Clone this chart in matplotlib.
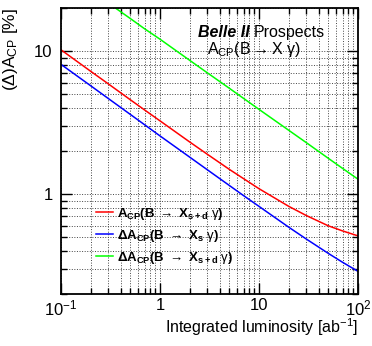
import numpy as np
import matplotlib.pyplot as plt
from matplotlib.ticker import LogLocator, FixedLocator, FixedFormatter, NullFormatter

plt.rcParams['font.family'] = ['Liberation Sans', 'DejaVu Sans']
plt.rcParams['mathtext.fontset'] = 'custom'
plt.rcParams['mathtext.rm'] = 'Liberation Sans'
plt.rcParams['mathtext.it'] = 'Liberation Sans'
plt.rcParams['mathtext.bf'] = 'Liberation Sans:bold'

# integrated luminosity [ab^-1]
lumi = [0.1, 0.2, 0.3, 0.5, 0.7, 1, 2, 3, 5, 7, 10, 20, 30, 50, 70, 100]
# A_CP(B -> X_s+d gamma) [%]
acp_sd = [10.2, 7.21, 5.90, 4.57, 3.87, 3.25, 2.31, 1.90, 1.49, 1.28, 1.09,
          0.82, 0.708, 0.60, 0.552, 0.51]
# Delta A_CP(B -> X_s gamma) [%]
dacp_s = [8.07, 5.71, 4.66, 3.61, 3.05, 2.55, 1.81, 1.48, 1.15, 0.974, 0.82,
          0.586, 0.485, 0.385, 0.333, 0.288]
# Delta A_CP(B -> X_s+d gamma) [%]
dacp_sd = [37.2, 26.5, 21.7, 16.9, 14.3, 12.1, 8.6, 7.05, 5.5, 4.66, 3.91,
           2.79, 2.29, 1.78, 1.51, 1.27]

labels = [r'$\mathbf{A_{CP}(B}\ \rightarrow\ \mathbf{X_{s+d}}\ \gamma\mathbf{)}$',
          r'$\mathbf{\Delta A_{CP}(B}\ \rightarrow\ \mathbf{X_{s}}\ \gamma\mathbf{)}$',
          r'$\mathbf{\Delta A_{CP}(B}\ \rightarrow\ \mathbf{X_{s+d}}\ \gamma\mathbf{)}$']
colors = ['#ff0000', '#0000ff', '#00ff00']

fig = plt.figure(figsize=(3.72, 3.46), dpi=100)
ax = fig.add_axes([61/372, 1 - 294/346, 297/372, 286/346])

for y, lab, c in zip([acp_sd, dacp_s, dacp_sd], labels, colors):
    ax.plot(lumi, y, color=c, lw=1.1, label=lab)

ax.set_xscale('log')
ax.set_yscale('log')
ax.set_xlim(0.1, 100)
ax.set_ylim(0.2, 20)

ax.xaxis.set_major_locator(FixedLocator([0.1, 1, 10, 100]))
ax.xaxis.set_major_formatter(FixedFormatter([r'$10^{-1}$', '1', '10', r'$10^{2}$']))
ax.xaxis.set_minor_locator(LogLocator(base=10, subs=np.arange(2, 10)))
ax.xaxis.set_minor_formatter(NullFormatter())
ax.yaxis.set_major_locator(FixedLocator([1, 10]))
ax.yaxis.set_major_formatter(FixedFormatter(['1', '10']))
ax.yaxis.set_minor_locator(LogLocator(base=10, subs=np.arange(2, 10)))
ax.yaxis.set_minor_formatter(NullFormatter())

ax.tick_params(which='both', direction='in', top=True, right=True, labelsize=12, width=1)
ax.tick_params(which='major', length=8)
ax.tick_params(axis='x', which='major', pad=3)
ax.tick_params(axis='y', which='major', pad=6)
ax.tick_params(which='minor', length=4)
for s in ax.spines.values():
    s.set_linewidth(1.3)

ax.grid(True, which='both', ls=':', color='#444444', lw=0.7)
ax.set_axisbelow(True)

fig.text(358/372, 1 - 327/346, r'Integrated luminosity [ab$^{\mathregular{-1}}$]', fontsize=11.5,
         ha='right', va='center')
ax.set_ylabel(r'($\Delta$)A$_{\mathregular{CP}}$ [%]', fontsize=12.5, ha='right', y=1.0, labelpad=10)

ax.text(250/372, 1 - 37/346, 'Belle II', transform=fig.transFigure, fontsize=11.5,
        fontweight='bold', fontstyle='italic', ha='right', va='baseline')
ax.text(254/372, 1 - 37/346, 'Prospects', transform=fig.transFigure, fontsize=11.5,
        ha='left', va='baseline')
ax.text(254/372, 1 - 54/346, r'A$_{\mathregular{CP}}$(B$\rightarrow$X γ)', transform=fig.transFigure,
        fontsize=11.5, ha='center', va='baseline')

ax.legend(loc='lower left', bbox_to_anchor=(0.1, 0.08), frameon=False, fontsize=9.5,
          handlelength=1.3, handletextpad=0.3, labelspacing=0.45, borderaxespad=0)

fig.savefig('out.png', dpi=100)
